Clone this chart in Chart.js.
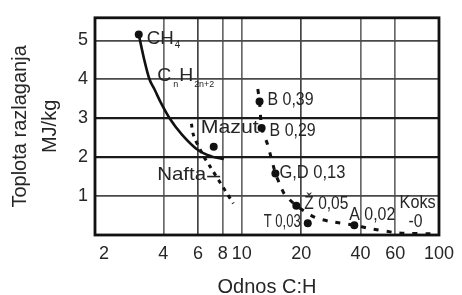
<!DOCTYPE html>
<html><head><meta charset="utf-8">
<script src="https://cdn.jsdelivr.net/npm/chart.js@4.4.1/dist/chart.umd.min.js"></script>
<style>html,body{margin:0;padding:0;background:#fff}#wrap{width:462px;height:295px;position:relative}</style>
</head><body><div id="wrap"><canvas id="c"></canvas></div>
<script>
// ---- data ----
const xTicks = [2, 4, 6, 8, 10, 20, 40, 60, 100];
const yTicks = [1, 2, 3, 4, 5];
const xTitle = 'Odnos C:H';
const yTitle = ['Toplota razlaganja', 'MJ/kg'];

// C_nH_2n+2 solid curve
const alkaneX = [3.0, 3.2, 3.4, 3.6, 3.9, 4.3, 4.97, 6.04, 7.0, 8.1];
const alkaneY = [5.15, 4.5, 4.0, 3.75, 3.38, 3.0, 2.58, 2.17, 2.02, 1.95];
// Nafta dashed line
const naftaX = [5.55, 5.7, 6.36, 6.92, 9.05];
const naftaY = [2.86, 2.55, 2.05, 1.75, 0.81];
// coal series dashed line
const coalX = [12.05, 12.3, 12.6, 13.5, 14.8, 15.5, 16.4, 18.9, 23.5, 27.9, 37.2, 44.3, 62.7, 100];
const coalY = [3.75, 3.43, 2.75, 2.33, 1.58, 1.33, 1.06, 0.75, 0.45, 0.35, 0.25, 0.17, 0.05, 0.03];
// marked points
const markerNames = ['CH4', 'Mazut', 'B 0,39', 'B 0,29', 'G,D 0,13', 'Ž 0,05', 'T 0,03', 'A 0,02'];
const markerX = [3.0, 7.2, 12.3, 12.6, 14.8, 18.9, 21.6, 37.2];
const markerY = [5.15, 2.27, 3.43, 2.75, 1.58, 0.75, 0.30, 0.25];
// free labels
const freeLabels = ['Nafta', 'Koks', '-0'];
const freeX = [3.72, 77.9, 77.9];
const freeY = [1.54, 0.84, 0.35];
const seriesLabel = 'CnH2n+2';
const seriesLabelX = 3.72, seriesLabelY = 4.09;

const pts = (xs, ys) => xs.map((x, i) => ({x, y: ys[i]}));
const FONT = '"Liberation Sans", Arial, sans-serif';
const TXT = '#262626';

function txt(ctx, s, x, y, size, w, align) {
  ctx.save();
  ctx.font = size + 'px ' + FONT;
  const nat = ctx.measureText(s).width;
  const k = w ? w / nat : 1;
  ctx.translate(x, y);
  ctx.scale(k, 1);
  ctx.textBaseline = 'middle';
  ctx.textAlign = align || 'left';
  ctx.fillStyle = TXT;
  ctx.fillText(s, 0, 0);
  ctx.restore();
}

const annot = {
  id: 'annot',
  afterDatasetsDraw(chart) {
    const {ctx, chartArea: a, scales: {x: sx, y: sy}} = chart;
    // frame
    ctx.save();
    ctx.strokeStyle = '#111';
    ctx.lineWidth = 2.8;
    ctx.strokeRect(a.left, a.top, a.right - a.left, a.bottom - a.top);
    ctx.restore();
    const P = i => [sx.getPixelForValue(markerX[i]), sy.getPixelForValue(markerY[i])];
    // CH4
    let [px, py] = P(0);
    txt(ctx, 'CH', px + 8, py + 4, 19, 27);
    txt(ctx, '4', px + 36, py + 11, 10);
    // Mazut
    [px, py] = P(1);
    txt(ctx, markerNames[1], px - 13, py - 19, 19, 58);
    // coal labels
    const offs = [null, null, [8, -1.5, 46, 'left'], [8, 2.5, 46, 'left'], [4, -0.5, 66, 'left'],
      [8, -2.5, 44, 'left'], [-7, -1.5, 37, 'right'], [-5, -11, 46, 'left']];
    for (let i = 2; i < markerNames.length; i++) {
      [px, py] = P(i);
      const o = offs[i];
      txt(ctx, markerNames[i], px + o[0], py + o[1], 19, o[2], o[3]);
    }
    // CnH2n+2
    const cx = sx.getPixelForValue(seriesLabelX), cy = sy.getPixelForValue(seriesLabelY);
    txt(ctx, 'C', cx, cy, 19, 14);
    txt(ctx, 'n', cx + 16, cy + 9, 9);
    txt(ctx, 'H', cx + 22, cy, 19, 14);
    txt(ctx, '2n+2', cx + 37, cy + 9, 9, 20);
    // Nafta with pointer
    let nx = sx.getPixelForValue(freeX[0]), ny = sy.getPixelForValue(freeY[0]);
    txt(ctx, freeLabels[0], nx, ny, 19, 49);
    ctx.save();
    ctx.strokeStyle = '#222'; ctx.lineWidth = 1.6;
    ctx.beginPath(); ctx.moveTo(nx + 50, ny + 1.5); ctx.lineTo(nx + 63, ny + 1.5); ctx.stroke();
    ctx.restore();
    // Koks -0
    txt(ctx, freeLabels[1], sx.getPixelForValue(freeX[1]), sy.getPixelForValue(freeY[1]), 19, 36, 'center');
    txt(ctx, freeLabels[2], sx.getPixelForValue(freeX[2]) - 2, sy.getPixelForValue(freeY[2]), 19, 14, 'center');
  }
};

new Chart(document.getElementById('c'), {
  type: 'scatter',
  data: {
    datasets: [
      {data: pts(alkaneX, alkaneY), showLine: true, borderColor: '#111', borderWidth: 2.6,
        pointRadius: 0, cubicInterpolationMode: 'monotone'},
      {data: pts(naftaX, naftaY), showLine: true, borderColor: '#111', borderWidth: 3,
        borderDash: [4, 5], pointRadius: 0, tension: 0.3},
      {data: pts(coalX, coalY), showLine: true, borderColor: '#111', borderWidth: 3,
        borderDash: [5, 8], pointRadius: 0, tension: 0.2},
      {data: pts(markerX, markerY), showLine: false, pointRadius: 4,
        pointBackgroundColor: '#111', pointBorderColor: '#111', pointBorderWidth: 0}
    ]
  },
  options: {
    responsive: true, maintainAspectRatio: false, animation: false,
    layout: {padding: {top: 13, right: 18, left: 0, bottom: 0}},
    plugins: {legend: {display: false}, tooltip: {enabled: false}},
    scales: {
      x: {
        type: 'logarithmic', min: 1.8, max: 100,
        afterBuildTicks: s => { s.ticks = xTicks.map(v => ({value: v})); },
        afterFit: s => { s.height = 60; },
        ticks: {autoSkip: false, maxRotation: 0, padding: 8, color: TXT,
          font: {family: FONT, size: 18}, callback: v => String(v)},
        grid: {drawTicks: false, lineWidth: 1.7,
          color: c => (c.tick && (c.tick.value === 2 || c.tick.value === 100)) ? 'rgba(0,0,0,0)' :
            (c.tick && (c.tick.value === 6 || c.tick.value === 20) ? '#444' : '#6a6a6a')},
        border: {display: false},
        title: {display: true, text: xTitle, color: TXT, font: {family: FONT, size: 20, lineHeight: 0.8},
          padding: {top: 0, bottom: 0}}
      },
      y: {
        min: 0, max: 5.58,
        afterBuildTicks: s => { s.ticks = yTicks.map(v => ({value: v})); },
        afterFit: s => { s.width = 95; },
        ticks: {padding: 7, color: TXT, font: {family: FONT, size: 18}},
        grid: {drawTicks: false,
          lineWidth: c => (c.tick && (c.tick.value === 2 || c.tick.value === 3)) ? 2.3 : 1.7,
          color: c => (c.tick && (c.tick.value === 2 || c.tick.value === 3)) ? '#1a1a1a' : '#4a4a4a'},
        border: {display: false},
        title: {display: true, text: yTitle, color: TXT, font: {family: FONT, size: 20, lineHeight: 1.5},
          padding: {top: 5, bottom: 0}}
      }
    }
  },
  plugins: [annot]
});
</script></body></html>
